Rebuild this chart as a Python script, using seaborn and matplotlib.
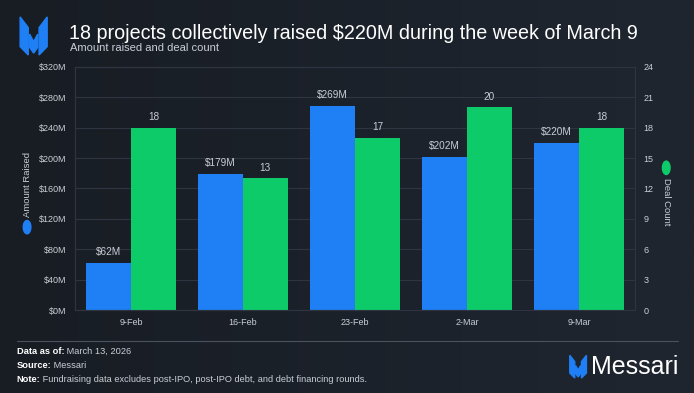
import matplotlib
matplotlib.use("Agg")
import matplotlib.pyplot as plt
import seaborn as sns
import pandas as pd
import numpy as np
from matplotlib.patches import Polygon, Ellipse

weeks = ["9-Feb", "16-Feb", "23-Feb", "2-Mar", "9-Mar"]
amount_raised = [62, 179, 269, 202, 220]  # $M
deal_count = [18, 13, 17, 20, 18]

left_ticks = [0, 40, 80, 120, 160, 200, 240, 280, 320]
right_ticks = [0, 3, 6, 9, 12, 15, 18, 21, 24]

BG = "#1b2029"
BLUE = "#1f7ff5"
GREEN = "#0ecb6a"
GRID = "#2e3540"
TXT = "#c9ced6"

sns.set_style("dark")
plt.rcParams["font.family"] = ["Liberation Sans", "DejaVu Sans"]

fig = plt.figure(figsize=(6.94, 3.93), dpi=100)
fig.patch.set_facecolor(BG)

# subtle background gradient
grad = np.linspace(0, 1, 256).reshape(1, -1)
bg_ax = fig.add_axes([0, 0, 1, 1], zorder=-10)
bg_ax.imshow(grad, aspect="auto", cmap=matplotlib.colors.LinearSegmentedColormap.from_list(
    "bg", ["#181d24", "#1f2630"]), extent=[0, 1, 0, 1])
bg_ax.axis("off")

ax1 = fig.add_axes([0.108, 0.211, 0.807, 0.619])
ax2 = ax1.twinx()

series = ["Amount Raised", "Deal Count"]
df = pd.DataFrame({
    "week": weeks * 2,
    "series": [series[0]] * len(weeks) + [series[1]] * len(weeks),
    "value": amount_raised + deal_count,
})
df1 = df.copy()
df1.loc[df1["series"] != series[0], "value"] = np.nan
df2 = df.copy()
df2.loc[df2["series"] != series[1], "value"] = np.nan

palette = {series[0]: BLUE, series[1]: GREEN}
sns.barplot(data=df1, x="week", y="value", hue="series", hue_order=series,
            palette=palette, order=weeks, width=0.8, ax=ax1, legend=False,
            saturation=1, errorbar=None, linewidth=0)
sns.barplot(data=df2, x="week", y="value", hue="series", hue_order=series,
            palette=palette, order=weeks, width=0.8, ax=ax2, legend=False,
            saturation=1, errorbar=None, linewidth=0)

for ax in (ax1, ax2):
    ax.set_facecolor("none")
    ax.set_xlabel("")
    ax.set_ylabel("")
    for s in ax.spines.values():
        s.set_visible(True)
        s.set_color(GRID)
        s.set_linewidth(0.8)
    ax.tick_params(colors=TXT, labelsize=6.5, length=0, pad=6)

ax1.set_ylim(0, 320)
ax1.set_yticks(left_ticks)
ax1.set_yticklabels([f"${t}M" for t in left_ticks])
ax1.grid(axis="y", color=GRID, linewidth=0.8)
ax1.grid(axis="x", visible=False)
ax1.set_axisbelow(True)
ax2.set_ylim(0, 24)
ax2.set_yticks(right_ticks)
ax2.grid(False)
ax1.set_xlim(-0.5, len(weeks) - 0.5)

for c in ax1.containers:
    ax1.bar_label(c, labels=[f"${v:.0f}M" if not np.isnan(v) else "" for v in c.datavalues],
                  color=TXT, fontsize=7.2, padding=4)
for c in ax2.containers:
    ax2.bar_label(c, labels=[f"{v:.0f}" if not np.isnan(v) else "" for v in c.datavalues],
                  color=TXT, fontsize=7.2, padding=4)

# side legends
fig.text(0.039, 0.447, "Amount Raised", rotation=90, color=TXT, fontsize=6.8,
         ha="center", va="bottom")
fig.patches.append(Ellipse((0.039, 0.422), 0.011, 0.034, color=BLUE,
                           transform=fig.transFigure))
fig.text(0.960, 0.547, "Deal Count", rotation=270, color=TXT, fontsize=6.8,
         ha="center", va="top")
fig.patches.append(Ellipse((0.960, 0.573), 0.011, 0.034, color=GREEN,
                           transform=fig.transFigure))

# logo
def logo(x0, y0, w, h, color):
    sx, sy = w, h
    pts = [
        [(0, 1), (0.3, 0.72), (0.3, 0.0), (0, 0.22)],
        [(0.35, 0.55), (0.5, 0.35), (0.65, 0.55), (0.65, 0.2), (0.5, 0.05), (0.35, 0.2)],
        [(1, 1), (0.7, 0.72), (0.7, 0.0), (1, 0.22)],
    ]
    for p in pts:
        poly = Polygon([(x0 + a * sx, y0 + b * sy) for a, b in p], closed=True,
                       transform=fig.transFigure, color=color)
        fig.patches.append(poly)

logo(0.029, 0.860, 0.039, 0.097, BLUE)
fig.text(0.100, 0.914, "18 projects collectively raised $220M during the week of March 9",
         color="white", fontsize=14.2, ha="left", va="center")
fig.text(0.101, 0.879, "Amount raised and deal count", color=TXT, fontsize=8,
         ha="left", va="center")

# footer
fig.add_artist(plt.Line2D([0.024, 0.977], [0.132, 0.132], color="#4a525e",
                          linewidth=0.8, transform=fig.transFigure))
foot = [("Data as of:", " March 13, 2026", 0.099),
        ("Source:", " Messari", 0.063),
        ("Note:", " Fundraising data excludes post-IPO, post-IPO debt, and debt financing rounds.", 0.027)]
for bold, rest, y in foot:
    t = fig.text(0.024, y, bold, color="white", fontsize=6.7, weight="bold",
                 ha="left", va="baseline")
    fig.canvas.draw()
    bb = t.get_window_extent()
    fig.text(bb.x1 / fig.bbox.width, y, rest, color=TXT, fontsize=6.7,
             ha="left", va="baseline")

logo(0.821, 0.038, 0.024, 0.058, BLUE)
fig.text(0.851, 0.066, "Messari", color="white", fontsize=18, ha="left", va="center")

fig.savefig("out.png", dpi=100, facecolor=BG)
